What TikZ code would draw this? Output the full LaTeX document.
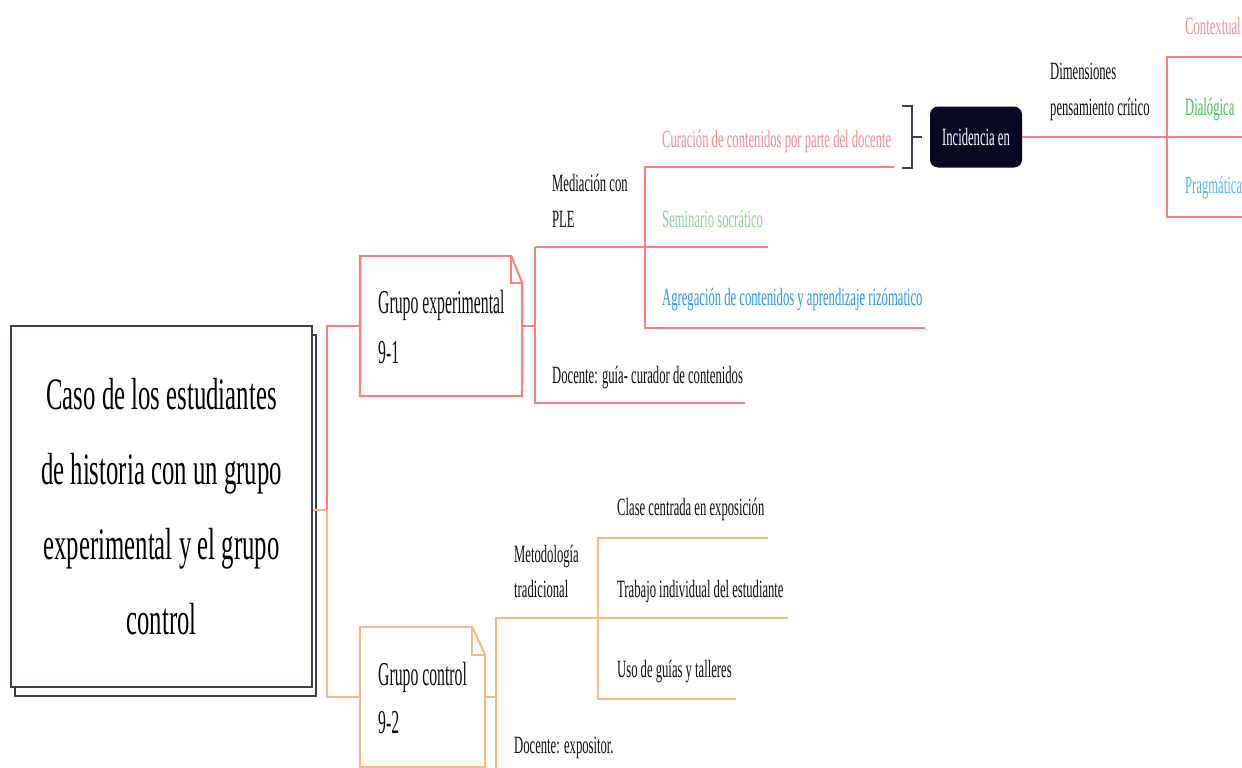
\documentclass[tikz,border=0pt]{standalone}
\usepackage{fontspec}
\setmainfont[FakeStretch=0.51]{Liberation Serif}
\newfontfamily\grpf[FakeStretch=0.47]{Liberation Serif}
\newfontfamily\mainf[FakeStretch=0.55]{Liberation Serif}
\usetikzlibrary{shadows}
\definecolor{redl}{RGB}{250,128,128}
\definecolor{orgl}{RGB}{248,186,128}
\definecolor{pinkt}{RGB}{246,140,140}
\definecolor{greent}{RGB}{140,214,140}
\definecolor{bluet}{RGB}{40,150,240}
\definecolor{greentt}{RGB}{60,196,80}
\definecolor{bluett}{RGB}{90,180,240}
\definecolor{navy}{RGB}{8,8,36}
\definecolor{slate}{RGB}{60,62,82}
\definecolor{ink}{RGB}{15,15,15}
\begin{document}
\begin{tikzpicture}[x=1pt,y=-1pt,
  lbl/.style={anchor=base west, inner sep=0pt, text=ink, font=\fontsize{24.8}{28}\selectfont},
  grp/.style={anchor=base west, inner sep=0pt, text=ink, font=\grpf\fontsize{33.5}{40}\selectfont},
  redln/.style={draw=redl, line width=2pt},
  orgln/.style={draw=orgl, line width=2pt},
  brk/.style={draw=slate, line width=1.6pt},
  card/.style={minimum width=#1, inner sep=0pt, draw=none},
]
\useasboundingbox (0,0) rectangle (1242,768);
\clip (0,0) rectangle (1242,768);
\fill[white] (0,0) rectangle (1242,768);

% central box
\node[draw=slate, line width=1.6pt, fill=white, minimum width=301pt, minimum height=361pt,
  copy shadow={shadow xshift=4pt, shadow yshift=-9pt},
  align=center, text=black, font=\mainf\fontsize{45}{75}\selectfont] (main) at (161.5,506.5)
  {Caso de los estudiantes\\de historia con un grupo\\experimental y el grupo\\control};

% group boxes
\node[card=162pt, minimum height=140pt] (ge) at (441,326) {};
\node[card=125pt, minimum height=140pt] (gc) at (422.5,697) {};

% trunk connectors
\coordinate (j0) at (327,510);
\draw[orgln] (main.east |- j0) -- (j0) -- (j0 |- gc.west) -- (gc.west);
\draw[redln] (j0) -- (j0 |- ge.west) -- (ge.west);

% experimental group box with folded corner
\draw[redln, fill=white] (ge.north west) -- ([xshift=-11pt]ge.north east) -- ([yshift=-27pt]ge.north east) -- (ge.south east) -- (ge.south west) -- cycle;
\draw[redln] ([xshift=-11pt]ge.north east) -- ([xshift=-11pt,yshift=-27pt]ge.north east) -- ([yshift=-27pt]ge.north east);
\node[grp] (ge1) at (378,313) {Grupo experimental};
\node[grp] (ge2) at (378,363) {9-1};

% control group box with folded corner
\draw[orgln, fill=white] (gc.north west) -- ([xshift=-13pt]gc.north east) -- ([yshift=-28pt]gc.north east) -- (gc.south east) -- (gc.south west) -- cycle;
\draw[orgln] ([xshift=-13pt]gc.north east) -- ([xshift=-13pt,yshift=-28pt]gc.north east) -- ([yshift=-28pt]gc.north east);
\node[grp] (gc1) at (378,685) {Grupo control};
\node[grp] (gc2) at (378,733) {9-2};

% experimental branches
\coordinate (e1) at (535,326);
\coordinate (m1) at (535,247);
\coordinate (m2) at (645,247);
\coordinate (se) at (768,247);
\coordinate (d1) at (535,403);
\coordinate (d1e) at (745,403);
\coordinate (c1) at (645,167);
\coordinate (c1e) at (894,167);
\coordinate (a1) at (645,328);
\coordinate (a1e) at (925,328);
\draw[redln] (ge.east) -- (e1);
\draw[redln] (m1) -- (d1) -- (d1e);
\draw[redln] (m1) -- (m2) -- (se);
\draw[redln] (c1e) -- (c1) -- (a1) -- (a1e);

\node[lbl] (med1) at (552,191) {Mediación con};
\node[lbl] (med2) at (552,227) {PLE};
\node[lbl, text=pinkt] (cur) at (662,147) {Curación de contenidos por parte del docente};
\node[lbl, text=greent] (sem) at (662,227) {Seminario socrático};
\node[lbl, text=bluet] (agr) at (662,305) {Agregación de contenidos y aprendizaje rizómatico};
\node[lbl] (doc1) at (552,383) {Docente: guía- curador de contenidos};

% bracket and incidence
\coordinate (b1) at (902,106);
\coordinate (b2) at (912,106);
\coordinate (b3) at (912,168);
\coordinate (b4) at (902,168);
\coordinate (bm) at (912,137);
\coordinate (bt) at (922,137);
\draw[brk] (b1) -- (b2) -- (b3) -- (b4);
\draw[brk] (bm) -- (bt);
\node[fill=navy, rounded corners=8pt, minimum width=92pt, minimum height=61pt, inner sep=0pt,
  text=white, font=\fontsize{24.8}{28}\selectfont] (inc) at (976,137) {Incidencia en};

\coordinate (k1) at (1167,137);
\coordinate (k1e) at (1250,137);
\coordinate (k2) at (1167,57);
\coordinate (k2e) at (1250,57);
\coordinate (k3) at (1167,217);
\coordinate (k3e) at (1250,217);
\draw[redln] (inc.east) -- (k1) -- (k1e);
\draw[redln] (k2e) -- (k2) -- (k3) -- (k3e);
\node[lbl] (dim1) at (1050,80) {Dimensiones};
\node[lbl] (dim2) at (1050,115) {pensamiento crítico};
\node[lbl, text=pinkt] (ctx) at (1185,35) {Contextual};
\node[lbl, text=greentt] (dia) at (1185,115) {Dialógica};
\node[lbl, text=bluett] (pra) at (1185,193) {Pragmática};

% control branches
\coordinate (f1) at (496,697);
\coordinate (t1) at (496,618);
\coordinate (t2) at (598,618);
\coordinate (te) at (788,618);
\coordinate (tb) at (496,790);
\coordinate (u1) at (598,538);
\coordinate (u1e) at (768,538);
\coordinate (u3) at (598,699);
\coordinate (u3e) at (736,699);
\draw[orgln] (gc.east) -- (f1);
\draw[orgln] (tb) -- (t1) -- (t2) -- (te);
\draw[orgln] (u1e) -- (u1) -- (u3) -- (u3e);

\node[lbl] (met1) at (514,562) {Metodología};
\node[lbl] (met2) at (514,597) {tradicional};
\node[lbl] (cla) at (617,515) {Clase centrada en exposición};
\node[lbl] (tra) at (617,597) {Trabajo individual del estudiante};
\node[lbl] (uso) at (617,677) {Uso de guías y talleres};
\node[lbl] (doc2) at (514,753) {Docente: expositor.};
\end{tikzpicture}
\end{document}
